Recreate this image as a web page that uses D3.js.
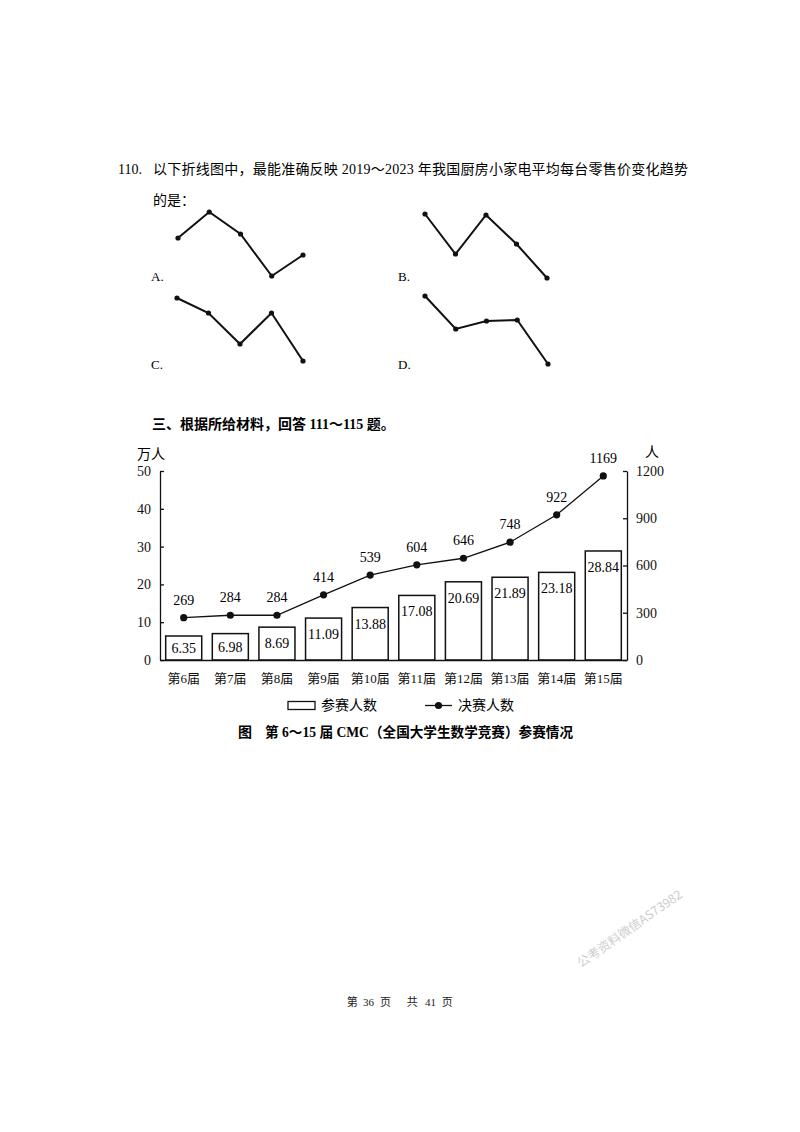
<!DOCTYPE html>
<html>
<head>
<meta charset="utf-8">
<script src="https://cdn.jsdelivr.net/npm/d3@7"></script>
<style>
  body { margin: 0; background: #fff; }
  svg { display: block; }
</style>
</head>
<body>
<div id="page"></div>
<script>
// main chart data
const sessions = ["第6届", "第7届", "第8届", "第9届", "第10届", "第11届", "第12届", "第13届", "第14届", "第15届"];
const entrants = [6.35, 6.98, 8.69, 11.09, 13.88, 17.08, 20.69, 21.89, 23.18, 28.84];
const finalists = [269, 284, 284, 414, 539, 604, 646, 748, 922, 1169];
const leftTicks = [0, 10, 20, 30, 40, 50];
const rightTicks = [0, 300, 600, 900, 1200];

// the four answer options (relative heights)
const optionYears = [2019, 2020, 2021, 2022, 2023];
const optionA = [47, 73, 51, 9, 30];
const optionB = [71, 31, 70, 41, 7];
const optionC = [75, 60, 29, 60, 12];
const optionD = [77, 44, 52, 53, 9];
const optionLabels = ["A.", "B.", "C.", "D."];

const W = 800, H = 1132;
const serif = "'Liberation Serif', 'Noto Sans CJK SC', serif";
const cjk = "'Noto Sans CJK SC', sans-serif";

const svg = d3.select("#page").append("svg")
  .attr("width", W).attr("height", H)
  .style("font-family", serif);

svg.append("rect").attr("width", W).attr("height", H).attr("fill", "#fff");

// question text
svg.append("text").attr("x", 118).attr("y", 173.5).attr("font-size", 14).text("110.");
svg.append("text").attr("x", 153).attr("y", 173.5).attr("font-size", 14)
  .attr("textLength", 535).attr("lengthAdjust", "spacing")
  .text("以下折线图中，最能准确反映 2019～2023 年我国厨房小家电平均每台零售价变化趋势");
svg.append("text").attr("x", 153).attr("y", 204.5).attr("font-size", 14).text("的是：");

// option sketches
const panels = [
  { data: optionA, range: [178, 303], base: 285, label: optionLabels[0], lx: 151, ly: 281 },
  { data: optionB, range: [425, 547], base: 285, label: optionLabels[1], lx: 398, ly: 281 },
  { data: optionC, range: [177, 303], base: 373, label: optionLabels[2], lx: 151, ly: 369 },
  { data: optionD, range: [425, 548], base: 373, label: optionLabels[3], lx: 398, ly: 369 }
];

panels.forEach((p) => {
  const px = d3.scalePoint().domain(optionYears).range(p.range);
  const py = d3.scaleLinear().domain([0, 80]).range([p.base, p.base - 80]);
  const pts = optionYears.map((yr, i) => ({ yr, v: p.data[i] }));
  const g = svg.append("g");
  g.append("path")
    .datum(pts)
    .attr("fill", "none")
    .attr("stroke", "#111")
    .attr("stroke-width", 2)
    .attr("d", d3.line().x((d) => px(d.yr)).y((d) => py(d.v)));
  g.selectAll("circle").data(pts).enter().append("circle")
    .attr("cx", (d) => px(d.yr)).attr("cy", (d) => py(d.v))
    .attr("r", 2.6).attr("fill", "#111");
  svg.append("text").attr("x", p.lx).attr("y", p.ly).attr("font-size", 13).text(p.label);
});

// section header
svg.append("text").attr("x", 152).attr("y", 429).attr("font-size", 14)
  .attr("font-weight", "bold").text("三、根据所给材料，回答 111～115 题。");

// main combo chart
const x = d3.scaleBand().domain(sessions).range([160, 627])
  .paddingInner(0.227).paddingOuter(0.122);
const yL = d3.scaleLinear().domain([0, 50]).range([660, 471]);
const yR = d3.scaleLinear().domain([0, 1200]).range([660, 471]);

const chart = svg.append("g");

// bars
chart.selectAll("rect.bar").data(entrants).enter().append("rect")
  .attr("class", "bar")
  .attr("x", (d, i) => x(sessions[i]))
  .attr("y", (d) => yL(d))
  .attr("width", x.bandwidth())
  .attr("height", (d) => yL(0) - yL(d))
  .attr("fill", "#fff")
  .attr("stroke", "#111")
  .attr("stroke-width", 1.5);

chart.selectAll("text.barlab").data(entrants).enter().append("text")
  .attr("class", "barlab")
  .attr("x", (d, i) => x(sessions[i]) + x.bandwidth() / 2)
  .attr("y", (d) => Math.min(yL(d) + 21, (yL(d) + yL(0)) / 2 + 5))
  .attr("text-anchor", "middle")
  .attr("font-size", 14)
  .text((d) => d.toFixed(2));

// axes
const styleAxis = (g) => {
  g.selectAll("path, line").attr("stroke", "#111").attr("stroke-width", 1.3);
  g.selectAll("text").attr("font-family", serif).attr("font-size", 14).attr("fill", "#111");
};

chart.append("g")
  .attr("transform", "translate(160,0)")
  .call(d3.axisLeft(yL).tickValues(leftTicks).tickFormat(d3.format("d"))
    .tickSizeInner(-4).tickSizeOuter(0).tickPadding(9))
  .call(styleAxis);

chart.append("g")
  .attr("transform", "translate(627,0)")
  .call(d3.axisRight(yR).tickValues(rightTicks).tickFormat(d3.format("d"))
    .tickSizeInner(-4).tickSizeOuter(0).tickPadding(9))
  .call(styleAxis);

chart.append("g")
  .attr("transform", "translate(0,660)")
  .call(d3.axisBottom(x).tickSize(0).tickPadding(14))
  .call(styleAxis)
  .call((g) => g.selectAll("text").attr("font-size", 13));

// unit labels
chart.append("text").attr("x", 137).attr("y", 459).attr("font-size", 14).text("万人");
chart.append("text").attr("x", 645).attr("y", 457).attr("font-size", 14).text("人");

// finalists line
const line = d3.line()
  .x((d, i) => x(sessions[i]) + x.bandwidth() / 2)
  .y((d) => yR(d));

chart.append("path").datum(finalists)
  .attr("fill", "none").attr("stroke", "#111").attr("stroke-width", 1.3)
  .attr("d", line);

chart.selectAll("circle.dot").data(finalists).enter().append("circle")
  .attr("class", "dot")
  .attr("cx", (d, i) => x(sessions[i]) + x.bandwidth() / 2)
  .attr("cy", (d) => yR(d))
  .attr("r", 3.6)
  .attr("fill", "#111");

chart.selectAll("text.linelab").data(finalists).enter().append("text")
  .attr("class", "linelab")
  .attr("x", (d, i) => x(sessions[i]) + x.bandwidth() / 2)
  .attr("y", (d) => yR(d) - 13)
  .attr("text-anchor", "middle")
  .attr("font-size", 14)
  .text((d) => d);

// legend
const legend = svg.append("g");
legend.append("rect").attr("x", 288).attr("y", 701.5).attr("width", 27).attr("height", 8)
  .attr("fill", "#fff").attr("stroke", "#111").attr("stroke-width", 1.3);
legend.append("text").attr("x", 321).attr("y", 710).attr("font-size", 14).text("参赛人数");
legend.append("line").attr("x1", 425).attr("x2", 452).attr("y1", 705.5).attr("y2", 705.5)
  .attr("stroke", "#111").attr("stroke-width", 1.3);
legend.append("circle").attr("cx", 438.5).attr("cy", 705.5).attr("r", 3.6).attr("fill", "#111");
legend.append("text").attr("x", 458).attr("y", 710).attr("font-size", 14).text("决赛人数");

// caption
svg.append("text").attr("x", 238).attr("y", 737).attr("font-size", 14)
  .attr("font-weight", "bold").text("图");
svg.append("text").attr("x", 265).attr("y", 737).attr("font-size", 14)
  .attr("font-weight", "bold").attr("textLength", 308).attr("lengthAdjust", "spacingAndGlyphs")
  .text("第 6～15 届 CMC（全国大学生数学竞赛）参赛情况");

// watermark
svg.append("text")
  .attr("transform", "translate(581,968) rotate(-35)")
  .attr("font-family", cjk)
  .attr("font-size", 12.5)
  .attr("fill", "#cdcdcd")
  .text("公考资料微信AS73982");

// footer
const footer = svg.append("text").attr("y", 1005.5).attr("font-size", 11).attr("fill", "#222");
[["第", 346.7], ["36", 363], ["页", 380], ["共", 406.7], ["41", 425], ["页", 441.7]].forEach(([t, px]) => {
  footer.append("tspan").attr("x", px).text(t);
});
</script>
</body>
</html>
